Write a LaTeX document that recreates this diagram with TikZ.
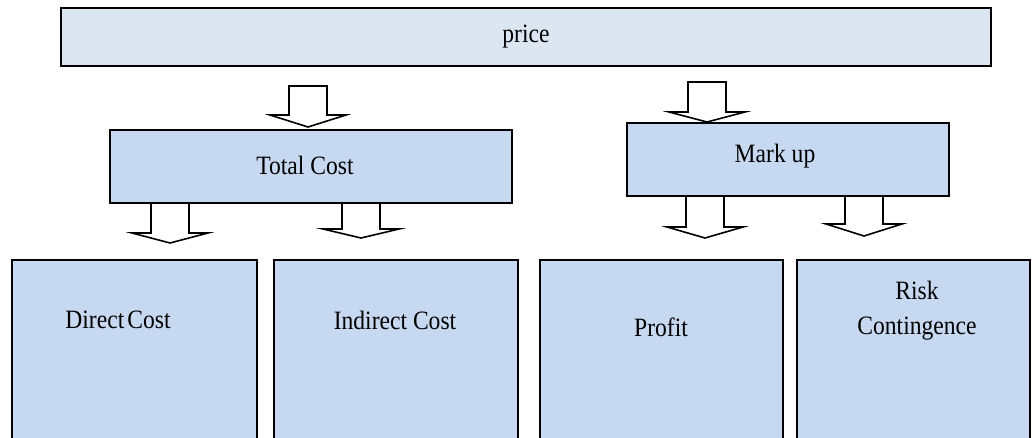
\documentclass[tikz,border=0pt]{standalone}
\usepackage{fontspec}
\setmainfont{Liberation Serif}[FakeStretch=0.89]
\definecolor{pricefill}{RGB}{220,230,242}
\definecolor{boxfill}{RGB}{198,217,240}
% hollow block arrow pointing down: centre x, top y, head base y, tip y
\newcommand\hollowdown[4]{%
  \draw[barrow] ({#1-19},#2) -- ({#1+19},#2) -- ({#1+19},#3) -- ({#1+38},#3)
    -- (#1,#4) -- ({#1-38},#3) -- ({#1-19},#3) -- cycle;}
\begin{document}
\begin{tikzpicture}[x=1pt,y=-1pt,
  box/.style={draw=black, line width=1.8pt, fill=boxfill, inner sep=0pt},
  topbox/.style={box, fill=pricefill},
  lbl/.style={font=\fontsize{26.5}{35}\selectfont, inner sep=0pt, align=center},
  barrow/.style={draw=black, line width=1.6pt, fill=white, line join=miter}]
\useasboundingbox (0,0) rectangle (1035,438);
\clip (0,0) rectangle (1035,438);

% arrows (drawn first so boxes sit on top of their ends)
\hollowdown{308}{86}{115}{127}
\hollowdown{707}{82}{112}{122}
\hollowdown{170}{203}{233}{243}
\hollowdown{361}{203}{229}{238}
\hollowdown{705}{196}{227}{238}
\hollowdown{864}{196}{224}{236}

% boxes
\node[topbox, minimum width=930pt, minimum height=58pt] (price) at (526,37) {};
\node[box, minimum width=402pt, minimum height=73pt] (total) at (311,166.5) {};
\node[box, minimum width=322pt, minimum height=73pt] (markup) at (788,159.5) {};
\node[box, minimum width=245pt, minimum height=210pt] (direct) at (134.5,365) {};
\node[box, minimum width=244pt, minimum height=210pt] (indirect) at (396,365) {};
\node[box, minimum width=243pt, minimum height=210pt] (profit) at (661.5,365) {};
\node[box, minimum width=233pt, minimum height=210pt] (risk) at (913.5,365) {};

% labels
\node[lbl] (priceT) at (526,37) {price};
\node[lbl] (totalT) at (305,165) {Total Cost};
\node[lbl] (markupT) at (775,156) {Mark up};
\node[lbl] (directT) at (118,320) {Direct\kern3pt Cost};
\node[lbl] (indirectT) at (395,320) {Indirect Cost};
\node[lbl] (profitT) at (661,327) {Profit};
\node[lbl] (riskT) at (917,311) {Risk\\Contingence};
\end{tikzpicture}
\end{document}
